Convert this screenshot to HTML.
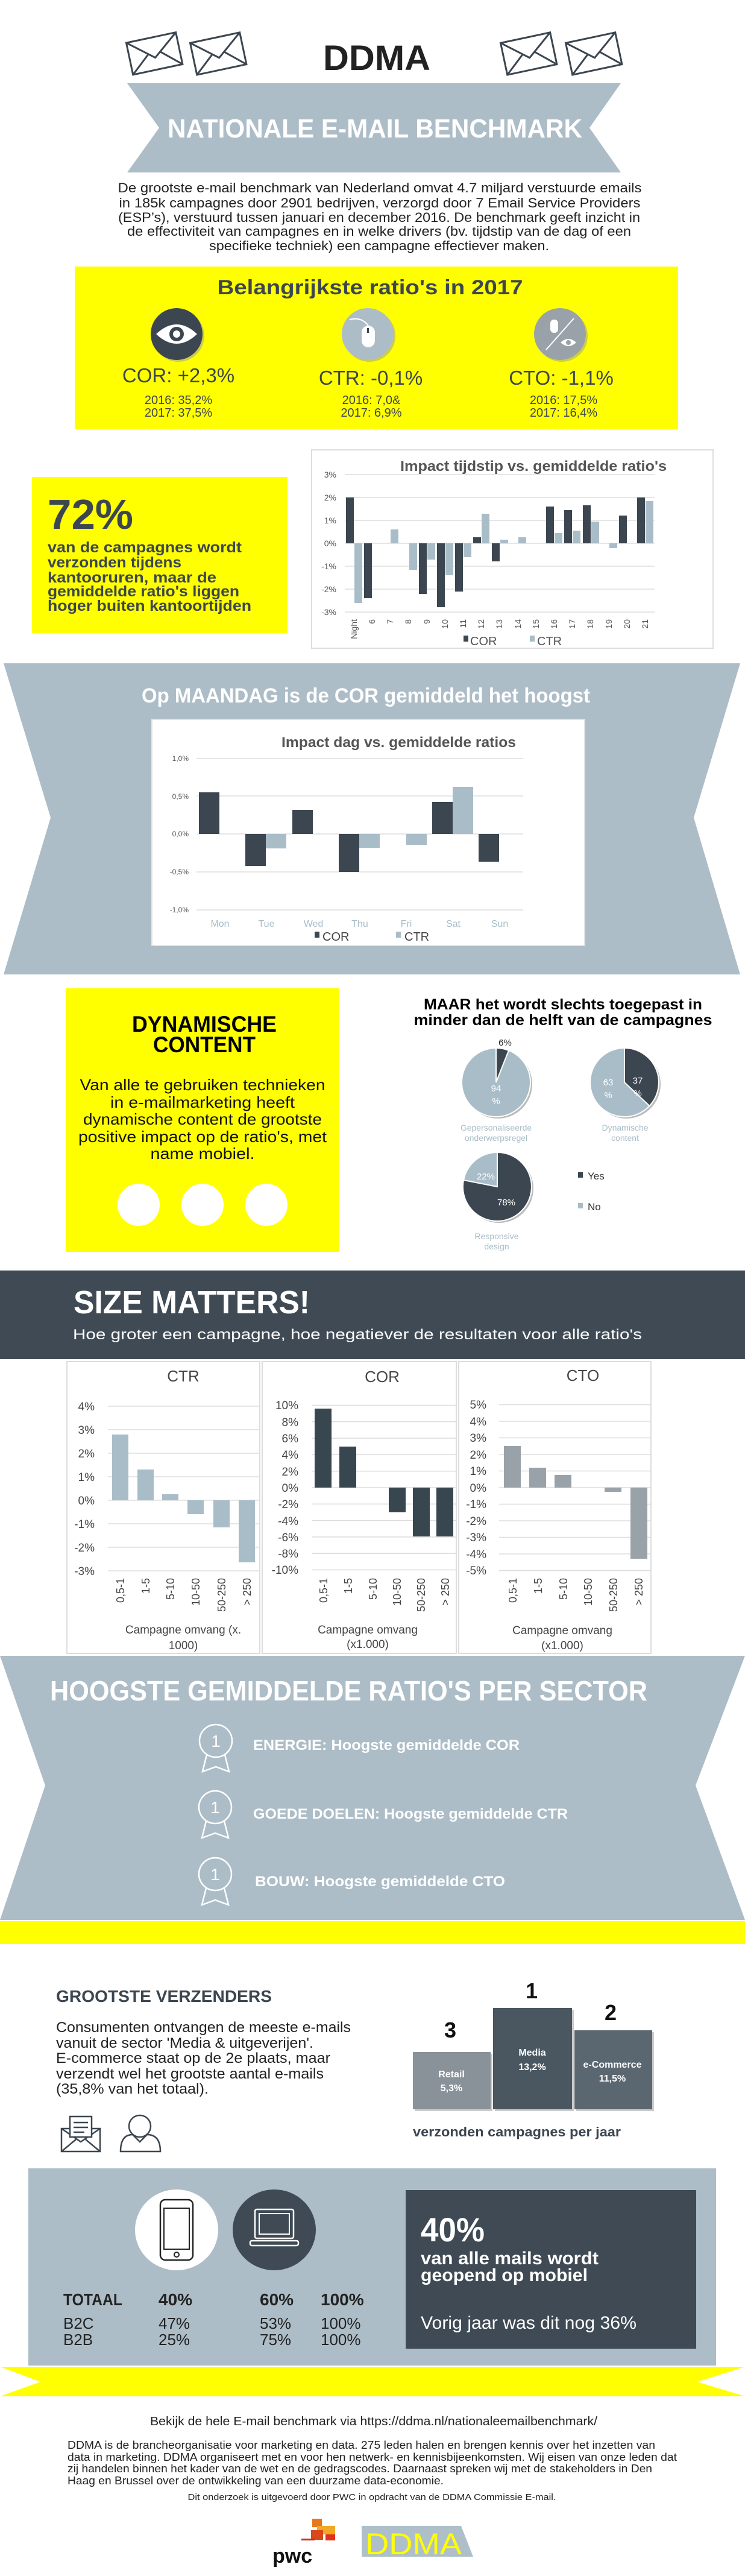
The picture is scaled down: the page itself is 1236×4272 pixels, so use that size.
<!DOCTYPE html>
<html><head><meta charset="utf-8"><style>
html,body{margin:0;padding:0;background:#fff}
svg{display:block}
text{font-family:"Liberation Sans",sans-serif}
</style></head><body>
<svg width="1236" height="4272" viewBox="0 0 1236 4272" xmlns="http://www.w3.org/2000/svg">
<!-- envelopes -->
<g fill="none" stroke="#3c4650" stroke-width="3">
<g transform="rotate(-12 255 88)"><rect x="214" y="62" width="84" height="54"/><path d="M214 62 L256 96 L298 62 M214 116 L246 88 M298 116 L266 88"/></g>
<g transform="rotate(-12 362 88)"><rect x="320" y="62" width="84" height="54"/><path d="M320 62 L362 96 L404 62 M320 116 L352 88 M404 116 L372 88"/></g>
<g transform="rotate(-12 877 88)"><rect x="835" y="62" width="84" height="54"/><path d="M835 62 L877 96 L919 62 M835 116 L867 88 M919 116 L887 88"/></g>
<g transform="rotate(-12 985 88)"><rect x="943" y="62" width="84" height="54"/><path d="M943 62 L985 96 L1027 62 M943 116 L975 88 M1027 116 L995 88"/></g>
</g>
<text x="625" y="116" font-size="58" font-weight="bold" fill="#222" text-anchor="middle" textLength="178" lengthAdjust="spacingAndGlyphs">DDMA</text>
<polygon points="211,138 1030,138 978,212 1030,286 211,286 264,212" fill="#adbdc7"/>
<text x="622" y="228" font-size="44" font-weight="bold" fill="#fff" text-anchor="middle" textLength="688" lengthAdjust="spacingAndGlyphs">NATIONALE E-MAIL BENCHMARK</text>
<g font-size="22" fill="#222" text-anchor="middle">
<text x="630" y="319" textLength="869" lengthAdjust="spacingAndGlyphs">De grootste e-mail benchmark van Nederland omvat 4.7 miljard verstuurde emails</text>
<text x="630" y="344" textLength="865" lengthAdjust="spacingAndGlyphs">in 185k campagnes door 2901 bedrijven, verzorgd door 7 Email Service Providers</text>
<text x="629" y="368" textLength="866" lengthAdjust="spacingAndGlyphs">(ESP’s), verstuurd tussen januari en december 2016. De benchmark geeft inzicht in</text>
<text x="629" y="391" textLength="836" lengthAdjust="spacingAndGlyphs">de effectiviteit van campagnes en in welke drivers (bv. tijdstip van de dag of een</text>
<text x="629" y="415" textLength="564" lengthAdjust="spacingAndGlyphs">specifieke techniek) een campagne effectiever maken.</text>
</g>
<!-- ratios box -->
<rect x="124" y="442" width="1001" height="270" fill="#ffff00"/>
<text x="614" y="488" font-size="34" font-weight="bold" fill="#3c4650" text-anchor="middle" textLength="507" lengthAdjust="spacingAndGlyphs">Belangrijkste ratio's in 2017</text>
<circle cx="296" cy="557" r="43" fill="#999" opacity="0.5"/>
<circle cx="293" cy="554" r="43" fill="#3c4650"/>
<path d="M259 554 Q293 522 327 554 Q293 586 259 554Z" fill="#fff"/><circle cx="293" cy="554" r="12" fill="#3c4650"/><circle cx="293" cy="554" r="6" fill="#fff"/>
<circle cx="613" cy="557" r="43" fill="#999" opacity="0.5"/>
<circle cx="610" cy="554" r="43" fill="#adbdc7"/>
<rect x="600" y="540" width="22" height="36" rx="11" fill="#fff"/><path d="M611 540 Q600 525 580 530" stroke="#fff" stroke-width="2" fill="none"/><rect x="609" y="544" width="3" height="8" fill="#3c4650"/>
<circle cx="932" cy="557" r="43" fill="#999" opacity="0.5"/>
<circle cx="929" cy="554" r="43" fill="#9aa2a9"/>
<line x1="906" y1="580" x2="952" y2="528" stroke="#fff" stroke-width="2"/>
<rect x="913" y="530" width="13" height="22" rx="6" fill="#fff"/>
<path d="M930 568 Q943 556 956 568 Q943 580 930 568Z" fill="#fff"/><circle cx="943" cy="568" r="4" fill="#9aa2a9"/>
<g fill="#3c4650" text-anchor="middle">
<text x="296" y="634" font-size="33">COR: +2,3%</text>
<text x="615" y="638" font-size="33">CTR: -0,1%</text>
<text x="931" y="638" font-size="33">CTO: -1,1%</text>
<g font-size="20"><text x="296" y="670">2016: 35,2%</text><text x="296" y="691">2017: 37,5%</text>
<text x="616" y="670">2016: 7,0&amp;</text><text x="616" y="691">2017: 6,9%</text>
<text x="935" y="670">2016: 17,5%</text><text x="935" y="691">2017: 16,4%</text></g>
</g>
<!-- 72% -->
<rect x="53" y="791" width="424" height="259" fill="#ffff00"/>
<text x="79" y="877" font-size="70" font-weight="bold" fill="#3c4650" textLength="142" lengthAdjust="spacingAndGlyphs">72%</text>
<g font-size="25" font-weight="bold" fill="#3c4650">
<text x="79" y="916" textLength="322" lengthAdjust="spacingAndGlyphs">van de campagnes wordt</text>
<text x="79" y="941" textLength="222" lengthAdjust="spacingAndGlyphs">verzonden tijdens</text>
<text x="79" y="966" textLength="280" lengthAdjust="spacingAndGlyphs">kantooruren, maar de</text>
<text x="79" y="989" textLength="318" lengthAdjust="spacingAndGlyphs">gemiddelde ratio's liggen</text>
<text x="79" y="1013" textLength="338" lengthAdjust="spacingAndGlyphs">hoger buiten kantoortijden</text>
</g>
<!-- time chart -->
<rect x="517" y="746" width="666" height="329" fill="#fff" stroke="#ddd" stroke-width="2"/>
<text x="664" y="781" font-size="24" font-weight="bold" fill="#555" textLength="442" lengthAdjust="spacingAndGlyphs">Impact tijdstip vs. gemiddelde ratio's</text>
<g stroke="#ddd" stroke-width="1.5"><line x1="572" y1="787" x2="1086" y2="787"/><line x1="572" y1="825" x2="1086" y2="825"/><line x1="572" y1="863" x2="1086" y2="863"/><line x1="572" y1="901" x2="1086" y2="901"/><line x1="572" y1="939" x2="1086" y2="939"/><line x1="572" y1="977" x2="1086" y2="977"/><line x1="572" y1="1015" x2="1086" y2="1015"/></g>
<g font-size="14" fill="#555" text-anchor="end"><text x="558" y="792">3%</text><text x="558" y="830">2%</text><text x="558" y="868">1%</text><text x="558" y="906">0%</text><text x="558" y="944">-1%</text><text x="558" y="982">-2%</text><text x="558" y="1020">-3%</text></g>
<g fill="#3c4650">
<rect x="574" y="825" width="13" height="76"/><rect x="604" y="901" width="13" height="91"/><rect x="695" y="901" width="13" height="84"/><rect x="725" y="901" width="13" height="106"/><rect x="755" y="901" width="13" height="80"/><rect x="785" y="891" width="13" height="10"/><rect x="816" y="901" width="13" height="30"/><rect x="906" y="840" width="13" height="61"/><rect x="936" y="846" width="13" height="55"/><rect x="967" y="838" width="13" height="63"/><rect x="1027" y="855" width="13" height="46"/><rect x="1057" y="825" width="13" height="76"/>
</g>
<g fill="#a9bdc8">
<rect x="588" y="901" width="13" height="99"/><rect x="648" y="878" width="13" height="23"/><rect x="679" y="901" width="13" height="44"/><rect x="709" y="901" width="13" height="27"/><rect x="739" y="901" width="13" height="53"/><rect x="769" y="901" width="13" height="23"/><rect x="799" y="852" width="13" height="49"/><rect x="830" y="895" width="13" height="6"/><rect x="860" y="891" width="13" height="10"/><rect x="920" y="884" width="13" height="17"/><rect x="950" y="880" width="13" height="21"/><rect x="981" y="865" width="13" height="36"/><rect x="1011" y="901" width="13" height="8"/><rect x="1071" y="831" width="13" height="70"/>
</g>
<g font-size="14" fill="#555" text-anchor="end">
<text transform="translate(592,1027) rotate(-90)">Night</text><text transform="translate(622,1027) rotate(-90)">6</text><text transform="translate(652,1027) rotate(-90)">7</text><text transform="translate(682,1027) rotate(-90)">8</text><text transform="translate(713,1027) rotate(-90)">9</text><text transform="translate(743,1027) rotate(-90)">10</text><text transform="translate(773,1027) rotate(-90)">11</text><text transform="translate(803,1027) rotate(-90)">12</text><text transform="translate(833,1027) rotate(-90)">13</text><text transform="translate(864,1027) rotate(-90)">14</text><text transform="translate(894,1027) rotate(-90)">15</text><text transform="translate(924,1027) rotate(-90)">16</text><text transform="translate(954,1027) rotate(-90)">17</text><text transform="translate(984,1027) rotate(-90)">18</text><text transform="translate(1015,1027) rotate(-90)">19</text><text transform="translate(1045,1027) rotate(-90)">20</text><text transform="translate(1075,1027) rotate(-90)">21</text>
</g>
<rect x="769" y="1054" width="8" height="10" fill="#3c4650"/><text x="780" y="1070" font-size="20" fill="#555">COR</text>
<rect x="879" y="1054" width="8" height="10" fill="#a9bdc8"/><text x="891" y="1070" font-size="20" fill="#555">CTR</text>
<!-- banner 2 -->
<polygon points="6,1100 1228,1100 1151,1356 1228,1616 6,1616 84,1356" fill="#adbdc7"/>
<text x="607" y="1165" font-size="34" font-weight="bold" fill="#fff" text-anchor="middle" textLength="744" lengthAdjust="spacingAndGlyphs">Op MAANDAG is de COR gemiddeld het hoogst</text>
<rect x="252" y="1193" width="718" height="375" fill="#fff" stroke="#e4e4e4" stroke-width="2"/>
<text x="467" y="1239" font-size="24" font-weight="bold" fill="#555" textLength="389" lengthAdjust="spacingAndGlyphs">Impact dag vs. gemiddelde ratios</text>
<g stroke="#ddd" stroke-width="1.5"><line x1="326" y1="1258" x2="868" y2="1258"/><line x1="326" y1="1320" x2="868" y2="1320"/><line x1="326" y1="1383" x2="868" y2="1383"/><line x1="326" y1="1446" x2="868" y2="1446"/><line x1="326" y1="1509" x2="868" y2="1509"/></g>
<g font-size="12" fill="#555" text-anchor="end"><text x="313" y="1262">1,0%</text><text x="313" y="1325">0,5%</text><text x="313" y="1387">0,0%</text><text x="313" y="1450">-0,5%</text><text x="313" y="1513">-1,0%</text></g>
<g fill="#3c4650"><rect x="330" y="1314" width="34" height="69"/><rect x="407" y="1383" width="34" height="53"/><rect x="485" y="1343" width="34" height="40"/><rect x="562" y="1383" width="34" height="63"/><rect x="717" y="1330" width="34" height="53"/><rect x="794" y="1383" width="34" height="46"/></g>
<g fill="#a9bdc8"><rect x="441" y="1383" width="34" height="24"/><rect x="596" y="1383" width="34" height="23"/><rect x="674" y="1383" width="34" height="18"/><rect x="751" y="1305" width="34" height="78"/></g>
<g font-size="16" fill="#a9bdc8" text-anchor="middle"><text x="365" y="1537">Mon</text><text x="442" y="1537">Tue</text><text x="520" y="1537">Wed</text><text x="597" y="1537">Thu</text><text x="674" y="1537">Fri</text><text x="752" y="1537">Sat</text><text x="829" y="1537">Sun</text></g>
<rect x="522" y="1545" width="8" height="10" fill="#3c4650"/><text x="535" y="1560" font-size="20" fill="#444">COR</text>
<rect x="657" y="1545" width="8" height="10" fill="#a9bdc8"/><text x="671" y="1560" font-size="20" fill="#444">CTR</text>
<!-- dynamische -->
<rect x="109" y="1639" width="453" height="437" fill="#ffff00"/>
<g font-size="37" font-weight="bold" fill="#000" text-anchor="middle"><text x="339" y="1711" textLength="240" lengthAdjust="spacingAndGlyphs">DYNAMISCHE</text><text x="339" y="1745" textLength="170" lengthAdjust="spacingAndGlyphs">CONTENT</text></g>
<g font-size="26" fill="#111" text-anchor="middle">
<text x="336" y="1808" textLength="407" lengthAdjust="spacingAndGlyphs">Van alle te gebruiken technieken</text>
<text x="336" y="1837" textLength="306" lengthAdjust="spacingAndGlyphs">in e-mailmarketing heeft</text>
<text x="336" y="1865" textLength="396" lengthAdjust="spacingAndGlyphs">dynamische content de grootste</text>
<text x="336" y="1894" textLength="412" lengthAdjust="spacingAndGlyphs">positive impact op de ratio's, met</text>
<text x="336" y="1922" textLength="173" lengthAdjust="spacingAndGlyphs">name mobiel.</text>
</g>
<circle cx="230" cy="1998" r="35" fill="#fff"/><circle cx="336" cy="1998" r="35" fill="#fff"/><circle cx="442" cy="1998" r="35" fill="#fff"/>
<g font-size="25" font-weight="bold" fill="#000" text-anchor="middle"><text x="934" y="1674" textLength="462" lengthAdjust="spacingAndGlyphs">MAAR het wordt slechts toegepast in</text><text x="934" y="1700" textLength="495" lengthAdjust="spacingAndGlyphs">minder dan de helft van de campagnes</text></g>
<!-- pies -->
<g>
<circle cx="826" cy="1798" r="57" fill="#bbb"/>
<circle cx="823" cy="1795" r="57" fill="#a9bdc8" stroke="#fff" stroke-width="2"/>
<path d="M823 1795 L823 1738 A57 57 0 0 1 844 1742 Z" fill="#3c4650" stroke="#fff" stroke-width="2"/>
<text x="838" y="1734" font-size="15" fill="#222" text-anchor="middle">6%</text>
<text x="823" y="1810" font-size="15" fill="#fff" text-anchor="middle">94</text><text x="823" y="1831" font-size="15" fill="#fff" text-anchor="middle">%</text>
<circle cx="1039" cy="1798" r="57" fill="#bbb"/>
<circle cx="1036" cy="1795" r="57" fill="#a9bdc8" stroke="#fff" stroke-width="2"/>
<path d="M1036 1795 L1036 1738 A57 57 0 0 1 1077.5 1834 Z" fill="#3c4650" stroke="#fff" stroke-width="2"/>
<text x="1009" y="1800" font-size="15" fill="#fff" text-anchor="middle">63</text><text x="1009" y="1821" font-size="15" fill="#fff" text-anchor="middle">%</text>
<text x="1058" y="1797" font-size="15" fill="#fff" text-anchor="middle">37</text><text x="1058" y="1818" font-size="15" fill="#fff" text-anchor="middle">%</text>
<circle cx="828" cy="1971" r="57" fill="#bbb"/>
<circle cx="825" cy="1968" r="57" fill="#a9bdc8" stroke="#fff" stroke-width="2"/>
<path d="M825 1968 L825 1911 A57 57 0 1 1 769 1957 Z" fill="#3c4650" stroke="#fff" stroke-width="2"/>
<text x="806" y="1956" font-size="15" fill="#fff" text-anchor="middle">22%</text>
<text x="840" y="1999" font-size="15" fill="#fff" text-anchor="middle">78%</text>
<g font-size="14" fill="#a9bdc8" text-anchor="middle"><text x="823" y="1875">Gepersonaliseerde</text><text x="823" y="1892">onderwerpsregel</text><text x="1037" y="1875">Dynamische</text><text x="1037" y="1892">content</text><text x="824" y="2055">Responsive</text><text x="824" y="2072">design</text></g>
<rect x="959" y="1944" width="8" height="9" fill="#3c4650"/><text x="975" y="1956" font-size="17" fill="#333">Yes</text>
<rect x="959" y="1995" width="8" height="9" fill="#a9bdc8"/><text x="975" y="2007" font-size="17" fill="#333">No</text>
</g>
<!-- size matters -->
<rect x="0" y="2107" width="1236" height="147" fill="#3f4a54"/>
<text x="122" y="2178" font-size="54" font-weight="bold" fill="#fff" textLength="392" lengthAdjust="spacingAndGlyphs">SIZE MATTERS!</text>
<text x="121" y="2221" font-size="24" fill="#fff" textLength="944" lengthAdjust="spacingAndGlyphs">Hoe groter een campagne, hoe negatiever de resultaten voor alle ratio's</text>
<g fill="#fff" stroke="#ddd" stroke-width="2"><rect x="111" y="2258" width="320" height="484"/><rect x="435" y="2258" width="322" height="484"/><rect x="761" y="2258" width="319" height="484"/></g>
<g font-size="26" fill="#444" text-anchor="middle"><text x="304" y="2291">CTR</text><text x="634" y="2292">COR</text><text x="967" y="2290">CTO</text></g>
<g stroke="#ddd" stroke-width="1.5">
<line x1="179" y1="2332" x2="430" y2="2332"/><line x1="179" y1="2371" x2="430" y2="2371"/><line x1="179" y1="2410" x2="430" y2="2410"/><line x1="179" y1="2449" x2="430" y2="2449"/><line x1="179" y1="2488" x2="430" y2="2488"/><line x1="179" y1="2527" x2="430" y2="2527"/><line x1="179" y1="2566" x2="430" y2="2566"/><line x1="179" y1="2605" x2="430" y2="2605"/>
<line x1="517" y1="2330.5" x2="757" y2="2330.5"/><line x1="517" y1="2357.8" x2="757" y2="2357.8"/><line x1="517" y1="2385.1" x2="757" y2="2385.1"/><line x1="517" y1="2412.4" x2="757" y2="2412.4"/><line x1="517" y1="2439.7" x2="757" y2="2439.7"/><line x1="517" y1="2467" x2="757" y2="2467"/><line x1="517" y1="2494.3" x2="757" y2="2494.3"/><line x1="517" y1="2521.6" x2="757" y2="2521.6"/><line x1="517" y1="2548.9" x2="757" y2="2548.9"/><line x1="517" y1="2576.2" x2="757" y2="2576.2"/><line x1="517" y1="2603.5" x2="757" y2="2603.5"/>
<line x1="828" y1="2329.5" x2="1079" y2="2329.5"/><line x1="828" y1="2357" x2="1079" y2="2357"/><line x1="828" y1="2384.5" x2="1079" y2="2384.5"/><line x1="828" y1="2412" x2="1079" y2="2412"/><line x1="828" y1="2439.5" x2="1079" y2="2439.5"/><line x1="828" y1="2467" x2="1079" y2="2467"/><line x1="828" y1="2494.5" x2="1079" y2="2494.5"/><line x1="828" y1="2522" x2="1079" y2="2522"/><line x1="828" y1="2549.5" x2="1079" y2="2549.5"/><line x1="828" y1="2577" x2="1079" y2="2577"/><line x1="828" y1="2604.5" x2="1079" y2="2604.5"/>
</g>
<g font-size="19" fill="#444" text-anchor="end">
<text x="157" y="2339">4%</text><text x="157" y="2378">3%</text><text x="157" y="2417">2%</text><text x="157" y="2456">1%</text><text x="157" y="2495">0%</text><text x="157" y="2534">-1%</text><text x="157" y="2573">-2%</text><text x="157" y="2612">-3%</text>
<text x="495" y="2337">10%</text><text x="495" y="2365">8%</text><text x="495" y="2392">6%</text><text x="495" y="2419">4%</text><text x="495" y="2447">2%</text><text x="495" y="2474">0%</text><text x="495" y="2501">-2%</text><text x="495" y="2529">-4%</text><text x="495" y="2556">-6%</text><text x="495" y="2583">-8%</text><text x="495" y="2610">-10%</text>
<text x="807" y="2336">5%</text><text x="807" y="2364">4%</text><text x="807" y="2391">3%</text><text x="807" y="2419">2%</text><text x="807" y="2446">1%</text><text x="807" y="2474">0%</text><text x="807" y="2501">-1%</text><text x="807" y="2529">-2%</text><text x="807" y="2556">-3%</text><text x="807" y="2584">-4%</text><text x="807" y="2611">-5%</text>
</g>
<g fill="#a9bdc8"><rect x="186" y="2379" width="27" height="109"/><rect x="228" y="2437" width="27" height="51"/><rect x="269" y="2478" width="27" height="10"/><rect x="311" y="2488" width="27" height="23"/><rect x="354" y="2488" width="27" height="45"/><rect x="396" y="2488" width="27" height="103"/></g>
<g fill="#38464f"><rect x="522" y="2336" width="28" height="131"/><rect x="563" y="2399" width="28" height="68"/><rect x="645" y="2467" width="28" height="41"/><rect x="685" y="2467" width="28" height="81"/><rect x="724" y="2467" width="28" height="81"/></g>
<g fill="#9aa2a9"><rect x="836" y="2398" width="28" height="69"/><rect x="878" y="2434" width="28" height="33"/><rect x="920" y="2446" width="28" height="21"/><rect x="1003" y="2467" width="28" height="7"/><rect x="1046" y="2467" width="28" height="118"/></g>
<g font-size="18" fill="#444" text-anchor="end">
<text transform="translate(206,2617) rotate(-90)">0,5-1</text><text transform="translate(248,2617) rotate(-90)">1-5</text><text transform="translate(289,2617) rotate(-90)">5-10</text><text transform="translate(331,2617) rotate(-90)">10-50</text><text transform="translate(374,2617) rotate(-90)">50-250</text><text transform="translate(416,2617) rotate(-90)">&gt; 250</text>
<text transform="translate(543,2617) rotate(-90)">0,5-1</text><text transform="translate(584,2617) rotate(-90)">1-5</text><text transform="translate(625,2617) rotate(-90)">5-10</text><text transform="translate(665,2617) rotate(-90)">10-50</text><text transform="translate(705,2617) rotate(-90)">50-250</text><text transform="translate(745,2617) rotate(-90)">&gt; 250</text>
<text transform="translate(857,2617) rotate(-90)">0,5-1</text><text transform="translate(899,2617) rotate(-90)">1-5</text><text transform="translate(941,2617) rotate(-90)">5-10</text><text transform="translate(982,2617) rotate(-90)">10-50</text><text transform="translate(1024,2617) rotate(-90)">50-250</text><text transform="translate(1066,2617) rotate(-90)">&gt; 250</text>
</g>
<g font-size="19" fill="#444" text-anchor="middle">
<text x="304" y="2709">Campagne omvang (x.</text><text x="304" y="2735">1000)</text>
<text x="610" y="2709">Campagne omvang</text><text x="610" y="2733">(x1.000)</text>
<text x="933" y="2710">Campagne omvang</text><text x="933" y="2735">(x1.000)</text>
</g>
<!-- banner 3 -->
<polygon points="0,2746 1236,2746 1154,2961 1236,3184 0,3184 75,2961" fill="#adbdc7"/>
<text x="83" y="2820" font-size="46" font-weight="bold" fill="#fff" textLength="991" lengthAdjust="spacingAndGlyphs">HOOGSTE GEMIDDELDE RATIO'S PER SECTOR</text>
<g stroke="#fff" stroke-width="2.5" fill="none">
<circle cx="358" cy="2887" r="27"/><path d="M343 2910 L336 2938 L358 2930 L380 2938 L373 2910"/>
<circle cx="357" cy="2997" r="27"/><path d="M342 3020 L335 3048 L357 3040 L379 3048 L372 3020"/>
<circle cx="357" cy="3108" r="27"/><path d="M342 3131 L335 3159 L357 3151 L379 3159 L372 3131"/>
</g>
<g font-size="28" fill="#fff" text-anchor="middle"><text x="358" y="2897">1</text><text x="357" y="3007">1</text><text x="357" y="3118">1</text></g>
<g font-size="24" font-weight="bold" fill="#fff">
<text x="420" y="2902" textLength="442" lengthAdjust="spacingAndGlyphs">ENERGIE: Hoogste gemiddelde COR</text>
<text x="420" y="3016" textLength="522" lengthAdjust="spacingAndGlyphs">GOEDE DOELEN: Hoogste gemiddelde CTR</text>
<text x="423" y="3128" textLength="415" lengthAdjust="spacingAndGlyphs">BOUW: Hoogste gemiddelde CTO</text>
</g>
<rect x="0" y="3186" width="1236" height="38" fill="#ffff00"/>
<!-- grootste verzenders -->
<text x="93" y="3320" font-size="28" font-weight="bold" fill="#3c4650" textLength="358" lengthAdjust="spacingAndGlyphs">GROOTSTE VERZENDERS</text>
<g font-size="24" fill="#222">
<text x="93" y="3370" textLength="489" lengthAdjust="spacingAndGlyphs">Consumenten ontvangen de meeste e-mails</text>
<text x="93" y="3396" textLength="427" lengthAdjust="spacingAndGlyphs">vanuit de sector 'Media &amp; uitgeverijen'.</text>
<text x="93" y="3421" textLength="455" lengthAdjust="spacingAndGlyphs">E-commerce staat op de 2e plaats, maar</text>
<text x="93" y="3447" textLength="444" lengthAdjust="spacingAndGlyphs">verzendt wel het grootste aantal e-mails</text>
<text x="93" y="3472" textLength="253" lengthAdjust="spacingAndGlyphs">(35,8% van het totaal).</text>
</g>
<g fill="none" stroke="#3c4650" stroke-width="2.5">
<rect x="102" y="3530" width="64" height="38"/><path d="M102 3530 L134 3552 L166 3530 M102 3568 L126 3548 M166 3568 L142 3548"/><rect x="116" y="3510" width="36" height="34" fill="#fff"/><path d="M122 3520 H146 M122 3528 H146 M122 3536 H140"/>
<circle cx="232" cy="3526" r="18"/><path d="M200 3568 Q200 3540 220 3540 L232 3552 L244 3540 Q266 3540 266 3568 Z"/>
</g>
<rect x="688" y="3406" width="129" height="95" fill="#ccc"/>
<rect x="685" y="3403" width="129" height="95" fill="#8a9299"/>
<rect x="821" y="3333" width="131" height="168" fill="#ccc"/>
<rect x="818" y="3330" width="131" height="168" fill="#4a5761"/>
<rect x="956" y="3370" width="129" height="131" fill="#ccc"/>
<rect x="953" y="3367" width="129" height="131" fill="#5b6770"/>
<g font-size="36" font-weight="bold" fill="#111" text-anchor="middle"><text x="882" y="3314">1</text><text x="747" y="3379">3</text><text x="1013" y="3350">2</text></g>
<g font-size="16" font-weight="bold" fill="#fff" text-anchor="middle">
<text x="749" y="3445">Retail</text><text x="749" y="3468">5,3%</text>
<text x="883" y="3409">Media</text><text x="883" y="3433">13,2%</text>
<text x="1016" y="3429">e-Commerce</text><text x="1016" y="3452">11,5%</text>
</g>
<text x="685" y="3543" font-size="22" font-weight="bold" fill="#3c4650" textLength="345" lengthAdjust="spacingAndGlyphs">verzonden campagnes per jaar</text>
<!-- mobile panel -->
<rect x="47" y="3596" width="1141" height="327" fill="#adbdc7"/>
<ellipse cx="293" cy="3698" rx="69" ry="67" fill="#fff"/>
<rect x="266" y="3648" width="54" height="100" rx="8" fill="none" stroke="#222" stroke-width="2.5"/><rect x="272" y="3662" width="42" height="68" fill="none" stroke="#222" stroke-width="2"/><circle cx="293" cy="3739" r="4" fill="none" stroke="#222" stroke-width="2"/>
<ellipse cx="455" cy="3698" rx="69" ry="67" fill="#3f4a54"/>
<rect x="423" y="3664" width="64" height="48" rx="3" fill="none" stroke="#fff" stroke-width="2.5"/><rect x="430" y="3671" width="50" height="34" fill="none" stroke="#fff" stroke-width="2"/><rect x="415" y="3716" width="80" height="8" rx="3" fill="none" stroke="#fff" stroke-width="2.5"/>
<g font-size="28" font-weight="bold" fill="#222"><text x="105" y="3823" textLength="98" lengthAdjust="spacingAndGlyphs">TOTAAL</text><text x="263" y="3823">40%</text><text x="431" y="3823">60%</text><text x="532" y="3823">100%</text></g>
<g font-size="26" fill="#222"><text x="105" y="3862">B2C</text><text x="263" y="3862">47%</text><text x="431" y="3862">53%</text><text x="532" y="3862">100%</text>
<text x="105" y="3889">B2B</text><text x="263" y="3889">25%</text><text x="431" y="3889">75%</text><text x="532" y="3889">100%</text></g>
<rect x="673" y="3632" width="482" height="263" fill="#3f4a54"/>
<text x="698" y="3717" font-size="56" font-weight="bold" fill="#fff" textLength="106" lengthAdjust="spacingAndGlyphs">40%</text>
<g font-size="30" font-weight="bold" fill="#fff"><text x="698" y="3755" textLength="295" lengthAdjust="spacingAndGlyphs">van alle mails wordt</text><text x="698" y="3783" textLength="277" lengthAdjust="spacingAndGlyphs">geopend op mobiel</text></g>
<text x="698" y="3862" font-size="30" fill="#fff" textLength="358" lengthAdjust="spacingAndGlyphs">Vorig jaar was dit nog 36%</text>
<polygon points="0,3925 1236,3925 1157,3950 1236,3974 0,3974 67,3950" fill="#ffff00"/>
<!-- footer -->
<text x="620" y="4022" font-size="20" fill="#222" text-anchor="middle" textLength="742" lengthAdjust="spacingAndGlyphs">Bekijk de hele E-mail benchmark via https://ddma.nl/nationaleemailbenchmark/</text>
<g font-size="18" fill="#222">
<text x="112" y="4061" textLength="975" lengthAdjust="spacingAndGlyphs">DDMA is de brancheorganisatie voor marketing en data. 275 leden halen en brengen kennis over het inzetten van</text>
<text x="112" y="4081" textLength="1011" lengthAdjust="spacingAndGlyphs">data in marketing. DDMA organiseert met en voor hen netwerk- en kennisbijeenkomsten. Wij eisen van onze leden dat</text>
<text x="112" y="4100" textLength="970" lengthAdjust="spacingAndGlyphs">zij handelen binnen het kader van de wet en de gedragscodes. Daarnaast spreken wij met de stakeholders in Den</text>
<text x="112" y="4120" textLength="624" lengthAdjust="spacingAndGlyphs">Haag en Brussel over de ontwikkeling van een duurzame data-economie.</text>
</g>
<text x="617" y="4146" font-size="15" fill="#222" text-anchor="middle" textLength="611" lengthAdjust="spacingAndGlyphs">Dit onderzoek is uitgevoerd door PWC in opdracht van de DDMA Commissie E-mail.</text>
<!-- logos -->
<rect x="518" y="4177" width="16" height="14" fill="#e8781e"/><rect x="526" y="4189" width="30" height="14" fill="#f0a826"/><rect x="516" y="4196" width="20" height="16" fill="#d9481a"/><rect x="540" y="4203" width="16" height="10" fill="#e0301e"/><rect x="500" y="4210" width="22" height="3" fill="#c52a1a"/>
<text x="452" y="4250" font-size="34" font-weight="bold" fill="#111" font-family="Liberation Serif, serif">pwc</text>
<polygon points="600,4189 765,4189 785,4240 600,4240" fill="#aebfc9"/>
<text x="606" y="4236" font-size="50" fill="#ffff00" textLength="160" lengthAdjust="spacingAndGlyphs">DDMA</text>
</svg>
</body></html>
